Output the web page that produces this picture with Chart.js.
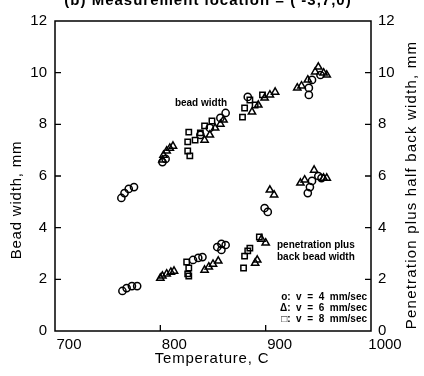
<!DOCTYPE html>
<html>
<head>
<meta charset="utf-8">
<script src="https://cdn.jsdelivr.net/npm/chart.js@4/dist/chart.umd.min.js"></script>
<style>
html,body{margin:0;padding:0;background:#fff;}
#wrap{width:424px;height:376px;}
</style>
</head>
<body>
<div id="wrap"><canvas id="c" width="424" height="376"></canvas></div>
<script>
// ---- data (temperature in C, width in mm) ----
const xTicks = [700, 800, 900, 1000];
const yTicks = [0, 2, 4, 6, 8, 10, 12];

// v = 4 mm/sec (circles)
const tempV4 = [763, 766, 770, 775, 802, 805, 838, 847, 857, 862, 883, 941, 941, 944, 952,
                764, 768, 773, 778, 831, 836, 840, 854, 858, 862, 858, 899, 902, 940, 942, 944, 950, 953];
const widthV4 = [5.15, 5.34, 5.50, 5.57, 6.54, 6.66, 7.59, 7.86, 8.25, 8.44, 9.06, 9.14, 9.41, 9.72, 9.91,
                 1.55, 1.66, 1.74, 1.74, 2.75, 2.83, 2.86, 3.25, 3.37, 3.33, 3.14, 4.76, 4.61, 5.34, 5.57, 5.81, 6.00, 5.92];

// v = 6 mm/sec (triangles)
const tempV6 = [802, 803, 806, 809, 812, 842, 847, 852, 857, 860, 887, 893, 899, 904, 909,
                930, 934, 940, 947, 950, 955, 958,
                800, 802, 806, 810, 813, 842, 846, 850, 855, 890, 892, 896, 900, 904, 908,
                933, 937, 946, 955, 958];
const widthV6 = [6.62, 6.81, 6.97, 7.08, 7.16, 7.39, 7.59, 7.86, 8.01, 8.17, 8.48, 8.75, 9.02, 9.14, 9.25,
                 9.41, 9.49, 9.72, 10.03, 10.22, 9.99, 9.91,
                 2.05, 2.13, 2.21, 2.28, 2.32, 2.36, 2.48, 2.59, 2.71, 2.63, 2.75, 3.56, 3.41, 5.46, 5.27,
                 5.73, 5.85, 6.23, 5.92, 5.92];

// v = 8 mm/sec (squares)
const tempV8 = [827, 826, 826, 828, 833, 838, 842, 849, 878, 880, 885, 890, 897,
                825, 827, 826, 827, 879, 880, 883, 885, 894];
const widthV8 = [7.70, 7.32, 6.97, 6.78, 7.39, 7.67, 7.94, 8.13, 8.28, 8.63, 8.94, 8.75, 9.14,
                 2.67, 2.44, 2.21, 2.13, 2.44, 2.90, 3.10, 3.21, 3.64];

const titleText = "(b) Measurement location = ( -3,7,0)";
const xTitle = "Temperature, C";
const yTitle = "Bead width, mm";
const y2Title = "Penetration plus half back width, mm";
const legendLines = ["o:  v  =  4  mm/sec", "\u0394:  v  =  6  mm/sec", "\u25A1:  v  =  8  mm/sec"];

function pts(xs, ys){ return xs.map((x,i)=>({x:x, y:ys[i]})); }

const FONT = "'Liberation Sans', 'DejaVu Sans', sans-serif";

const decor = {
  id: 'decor',
  afterDraw(chart){
    const ctx = chart.ctx;
    const a = chart.chartArea;
    const sx = chart.scales.x, sy = chart.scales.y, sy2 = chart.scales.y2;
    ctx.save();
    ctx.strokeStyle = '#000';
    ctx.lineWidth = 1.5;
    ctx.strokeRect(a.left, a.top, a.right - a.left, a.bottom - a.top);
    // inward tick marks
    ctx.lineWidth = 1.3;
    ctx.beginPath();
    yTicks.slice(1, -1).forEach(v => {
      const p = sy.getPixelForValue(v);
      ctx.moveTo(a.left, p); ctx.lineTo(a.left + 6, p);
      const p2 = sy2.getPixelForValue(v);
      ctx.moveTo(a.right, p2); ctx.lineTo(a.right - 6, p2);
    });
    xTicks.slice(1, -1).forEach(v => {
      const p = sx.getPixelForValue(v);
      ctx.moveTo(p, a.bottom); ctx.lineTo(p, a.bottom - 6);
    });
    ctx.stroke();

    ctx.fillStyle = '#000';
    // title (clipped at top like the scan)
    ctx.font = "bold 15px " + FONT;
    ctx.textAlign = 'center';
    ctx.textBaseline = 'alphabetic';
    ctx.letterSpacing = '1px';
    ctx.fillText(titleText, 208, 5);

    // axis titles
    ctx.font = "15px " + FONT;
    ctx.textBaseline = 'middle';
    ctx.letterSpacing = '0.8px';
    ctx.fillText(xTitle, 212, 359);
    ctx.save();
    ctx.translate(17, 200);
    ctx.rotate(-Math.PI / 2);
    ctx.fillText(yTitle, 0, 0);
    ctx.restore();
    ctx.save();
    ctx.letterSpacing = '1.2px';
    ctx.translate(412, 185);
    ctx.rotate(-Math.PI / 2);
    ctx.fillText(y2Title, 0, 0);
    ctx.restore();

    // annotations
    ctx.letterSpacing = '0px';
    ctx.font = "bold 10px " + FONT;
    ctx.textAlign = 'center';
    ctx.fillText("bead width", 201, 103);
    ctx.textAlign = 'left';
    ctx.fillText("penetration plus", 277, 245);
    ctx.fillText("back bead width", 277, 257);

    // legend
    ctx.font = "bold 10px " + FONT;
    ctx.textAlign = 'right';
    legendLines.forEach((t, i) => ctx.fillText(t, 367, 297 + i * 11));
    ctx.restore();
  }
};

const common = {
  borderColor: '#000',
  backgroundColor: 'rgba(255,255,255,0)',
  borderWidth: 1.5,
  pointRadius: 3.6,
  pointHoverRadius: 3.6
};

const tickFont = {size: 15, family: FONT};
const plain = v => String(v);

new Chart(document.getElementById('c'), {
  type: 'scatter',
  data: {
    datasets: [
      Object.assign({label: 'v = 4 mm/sec', data: pts(tempV4, widthV4), pointStyle: 'circle'}, common),
      Object.assign({label: 'v = 6 mm/sec', data: pts(tempV6, widthV6), pointStyle: 'triangle'}, common, {pointRadius: 4.2}),
      Object.assign({label: 'v = 8 mm/sec', data: pts(tempV8, widthV8), pointStyle: 'rect'}, common, {pointRadius: 3.8})
    ]
  },
  options: {
    responsive: false,
    animation: false,
    layout: {padding: {top: 21, left: 0, right: 0, bottom: 0}},
    plugins: {legend: {display: false}, tooltip: {enabled: false}, title: {display: false}},
    scales: {
      x: {
        type: 'linear', position: 'bottom', min: 700, max: 1000,
        afterBuildTicks: s => { s.ticks = xTicks.map(v => ({value: v})); },
        afterFit: s => { s.height = 45; },
        grid: {display: false, drawTicks: false}, border: {display: false},
        ticks: {color: '#000', font: tickFont, padding: 5, labelOffset: 14, maxRotation: 0, autoSkip: false, callback: plain}
      },
      y: {
        type: 'linear', position: 'left', min: 0, max: 12,
        afterBuildTicks: s => { s.ticks = yTicks.map(v => ({value: v})); },
        afterFit: s => { s.width = 55; },
        grid: {display: false, drawTicks: false}, border: {display: false},
        ticks: {color: '#000', font: tickFont, padding: 8, callback: plain}
      },
      y2: {
        type: 'linear', position: 'right', min: 0, max: 12,
        afterBuildTicks: s => { s.ticks = yTicks.map(v => ({value: v})); },
        afterFit: s => { s.width = 53; },
        grid: {display: false, drawTicks: false}, border: {display: false},
        ticks: {color: '#000', font: tickFont, padding: 7, callback: plain}
      }
    }
  },
  plugins: [decor]
});
</script>
</body>
</html>
